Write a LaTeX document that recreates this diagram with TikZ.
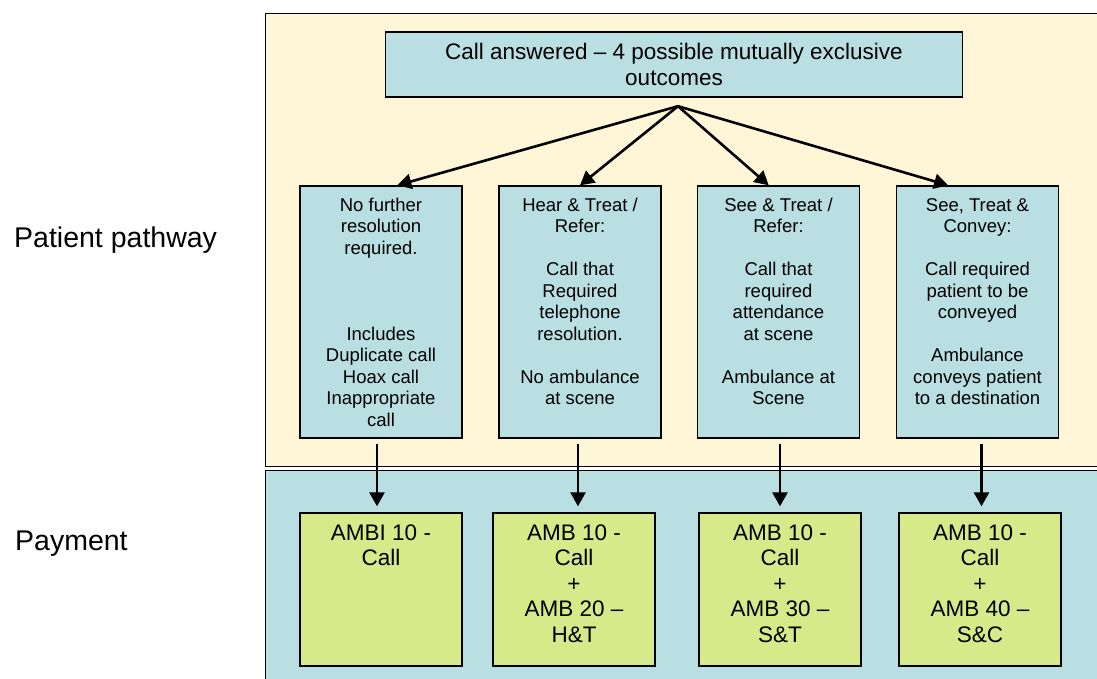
\documentclass[tikz,border=0pt]{standalone}
\usepackage{fontspec}
\setmainfont{Liberation Sans}
\usetikzlibrary{arrows.meta,calc}
\definecolor{cream}{RGB}{255,246,216}
\definecolor{paleblue}{RGB}{185,223,227}
\definecolor{lime}{RGB}{215,234,138}
\newcommand{\smallfnt}{\fontsize{18.5}{21.5}\selectfont}
\newcommand{\bigfnt}{\fontsize{22.5}{25.5}\selectfont}
\newcommand{\labfnt}{\fontsize{28.5}{33}\selectfont}
\begin{document}
\begin{tikzpicture}[x=1pt,y=-1pt,
  panel/.style={draw=black,line width=1pt},
  outbox/.style={draw=black,line width=1.4pt,fill=paleblue,inner sep=0pt,minimum width=162,minimum height=252},
  paybox/.style={draw=black,line width=1.4pt,fill=lime,inner sep=0pt,minimum width=162,minimum height=153},
  boxtext/.style={font=\smallfnt,align=center,inner sep=0pt,anchor=north},
  paytext/.style={font=\bigfnt,align=center,inner sep=0pt,anchor=north},
  lab/.style={font=\labfnt,inner sep=0pt,anchor=base west},
  arr/.style={line width=2.6pt,-{Triangle[length=14pt,width=15pt]}}]
\useasboundingbox (0,0) rectangle (1097,678);
\clip (0,0) rectangle (1097,678);
% panels
\draw[panel,fill=cream] (265.5,13) rectangle (1110,466);
\draw[panel,fill=paleblue] (265.5,470.5) rectangle (1110,690);
% labels
\node[lab] (lpath) at (14,247) {Patient pathway};
\node[lab] (lpay) at (15,550) {Payment};
% top box
\node[draw=black,line width=1.4pt,fill=paleblue,minimum width=577,minimum height=65,font=\bigfnt,align=center,inner sep=0pt] (top) at (674,64.5) {Call answered -- 4 possible mutually exclusive\\outcomes};
\coordinate (src) at ($(top.south)+(4,8.5)$);
% outcome boxes
\node[outbox] (b1) at (381,312) {};
\node[outbox] (b2) at (580,312) {};
\node[outbox] (b3) at (778.5,312) {};
\node[outbox] (b4) at (977.5,312) {};
\node[boxtext] (t1) at ($(b1.north)+(0,10.5)$) {\strut No further\\resolution\\required.\\\strut\\\strut\\\strut\\Includes\\Duplicate call\\Hoax call\\Inappropriate\\call};
\node[boxtext] (t2) at ($(b2.north)+(0,10.5)$) {\strut Hear \& Treat /\\Refer:\\\strut\\Call that\\Required\\telephone\\resolution.\\\strut\\No ambulance\\at scene};
\node[boxtext] (t3) at ($(b3.north)+(0,10.5)$) {\strut See \& Treat /\\Refer:\\\strut\\Call that\\required\\attendance\\at scene\\\strut\\Ambulance at\\Scene};
\node[boxtext] (t4) at ($(b4.north)+(0,10.5)$) {\strut See, Treat \&\\Convey:\\\strut\\Call required\\patient to be\\conveyed\\\strut\\Ambulance\\conveys patient\\to a destination};
% payment boxes
\node[paybox] (g1) at (381,589.5) {};
\node[paybox] (g2) at (574,589.5) {};
\node[paybox] (g3) at (780,589.5) {};
\node[paybox] (g4) at (980,589.5) {};
\node[paytext] (p1) at ($(g1.north)+(0,10)$) {\strut AMBI 10 -\\Call};
\node[paytext] (p2) at ($(g2.north)+(0,10)$) {\strut AMB 10 -\\Call\\+\\AMB 20 --\\H\&T};
\node[paytext] (p3) at ($(g3.north)+(0,10)$) {\strut AMB 10 -\\Call\\+\\AMB 30 --\\S\&T};
\node[paytext] (p4) at ($(g4.north)+(0,10)$) {\strut AMB 10 -\\Call\\+\\AMB 40 --\\S\&C};
% connectors
\draw[arr] (src) -- ($(b1.north west)!0.6!(b1.north east)$);
\draw[arr] (src) -- ($(b2.north west)!0.5!(b2.north east)$);
\draw[arr] (src) -- ($(b3.north west)!0.44!(b3.north east)$);
\draw[arr] (src) -- ($(b4.north west)!0.32!(b4.north east)$);
\draw[arr] ($(b1.south)+(-4,5)$) -- ($(b1.south |- g1.north)+(-4,-6)$);
\draw[arr] ($(b2.south)+(-2,5)$) -- ($(b2.south |- g2.north)+(-2,-6)$);
\draw[arr] ($(b3.south)+(1.5,5)$) -- ($(b3.south |- g3.north)+(1.5,-6)$);
\draw[arr] ($(b4.south)+(4,5)$) -- ($(b4.south |- g4.north)+(4,-6)$);
\end{tikzpicture}
\end{document}
